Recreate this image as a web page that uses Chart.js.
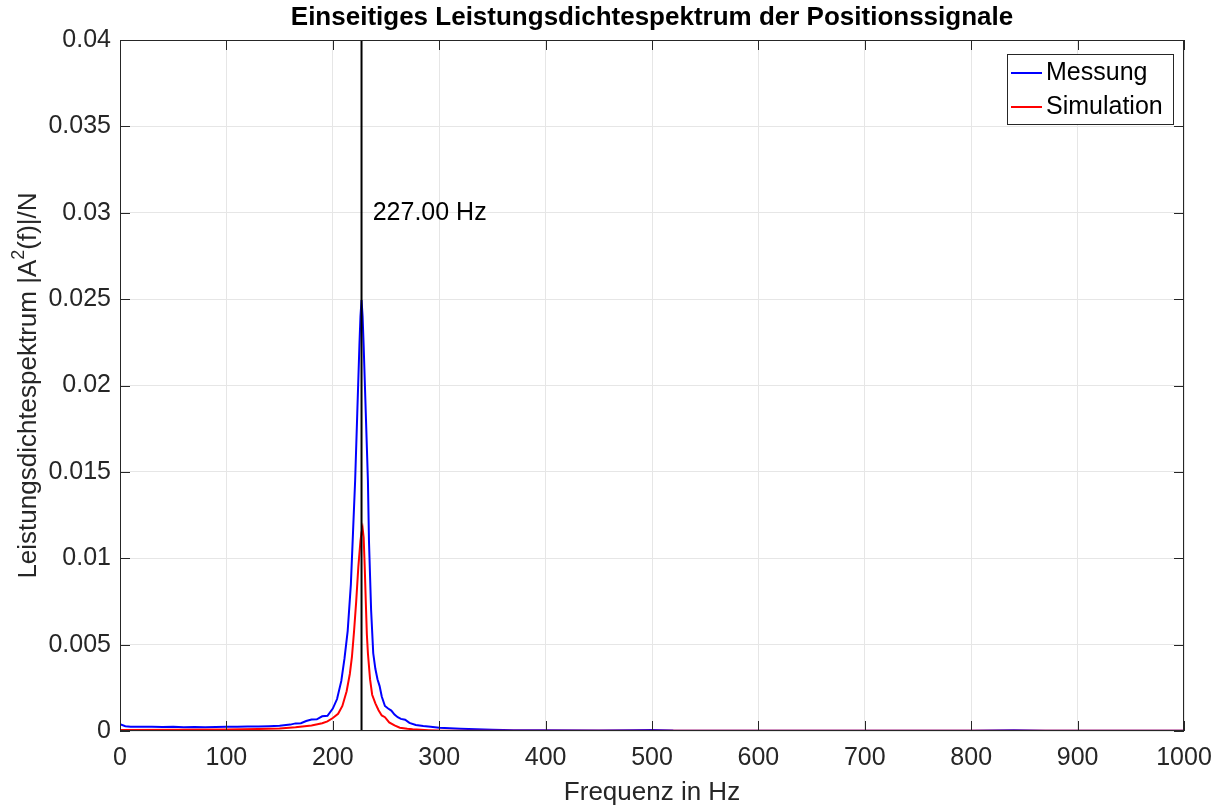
<!DOCTYPE html>
<html>
<head>
<meta charset="utf-8">
<title>Einseitiges Leistungsdichtespektrum</title>
<script src="https://cdn.jsdelivr.net/npm/chart.js@4/dist/chart.umd.min.js"></script>
<style>
  html, body { margin: 0; padding: 0; background: #ffffff; }
  #wrap { width: 1224px; height: 807px; }
</style>
</head>
<body>
<div id="wrap"><canvas id="c" width="1224" height="807"></canvas></div>
<script>
// Frequency axis (Hz) and spectrum values of the measured signal
const freqMessung = [0, 5, 10, 20, 30, 40, 50, 60, 70, 80, 90, 100, 110, 120, 130, 140, 150, 160, 165, 170, 175, 180, 185, 190, 195,
  200, 204, 208, 211, 214, 217, 219, 221, 223, 225, 226, 227, 228, 229, 231, 233, 234, 236, 238, 240, 242, 244, 246, 249,
  252, 255, 258, 261, 264, 268, 272, 278, 285, 292, 300, 310, 320, 335, 350, 370, 400, 450, 480, 500, 520, 600, 700, 800,
  840, 870, 1000];
const psdMessung = [0.00040, 0.00028, 0.00025, 0.00024, 0.00025, 0.00023, 0.00024, 0.00022, 0.00023, 0.00022, 0.00023, 0.00024,
  0.00024, 0.00026, 0.00026, 0.00028, 0.00031, 0.00037, 0.00044, 0.00045, 0.00058, 0.00067, 0.00068, 0.00085, 0.00088,
  0.00130, 0.00185, 0.00290, 0.00420, 0.00580, 0.00850, 0.01150, 0.01450, 0.01840, 0.02230, 0.02400, 0.02495, 0.02400,
  0.02230, 0.01840, 0.01450, 0.01100, 0.00700, 0.00450, 0.00360, 0.00300, 0.00260, 0.00200, 0.00145, 0.00130, 0.00118,
  0.00095, 0.00080, 0.00070, 0.00065, 0.00047, 0.00035, 0.00029, 0.00024, 0.00019, 0.00016, 0.00013, 0.00010, 0.00007,
  0.00005, 0.00004, 0.00003, 0.00004, 0.00006, 0.00003, 0.00002, 0.00002, 0.00002, 0.00005, 0.00002, 0.00001];

// Frequency axis (Hz) and spectrum values of the simulation
const freqSimulation = [0, 50, 100, 130, 150, 165, 180, 190, 195, 200, 205, 209, 213, 216, 218, 220, 222, 224, 226, 227, 228,
  229, 230, 231, 232, 233, 235, 237, 240, 243, 246, 249, 253, 258, 263, 270, 275, 290, 300, 400, 1000];
const psdSimulation = [0.00006, 0.00007, 0.00009, 0.00012, 0.00015, 0.00022, 0.00032, 0.00045, 0.00056, 0.00075, 0.00100,
  0.00145, 0.00230, 0.00330, 0.00430, 0.00580, 0.00750, 0.00950, 0.01100, 0.01150, 0.01175, 0.01120, 0.00950, 0.00750,
  0.00560, 0.00450, 0.00300, 0.00210, 0.00160, 0.00120, 0.00090, 0.00080, 0.00050, 0.00032, 0.00019, 0.00013, 0.00010,
  0.00005, 0.00003, 0.00002, 0.00001];

// Marked peak frequency
const peakFrequency = 227.00;

// Tick labels
const xTickLabels = ['0', '100', '200', '300', '400', '500', '600', '700', '800', '900', '1000'];
const yTickLabels = ['0', '0.005', '0.01', '0.015', '0.02', '0.025', '0.03', '0.035', '0.04'];

const seriesNames = ['Messung', 'Simulation'];
const seriesColors = ['#0000ff', '#ff0000'];

const FONT = '"Liberation Sans", Arial, Helvetica, sans-serif';
const TEXT = '#262626';
const AXIS = '#262626';

const toPoints = (xs, ys) => xs.map((x, i) => ({ x: x, y: ys[i] }));

// Axes box, inward ticks, peak marker, labels and legend
const matlabStyle = {
  id: 'matlabStyle',
  afterDatasetsDraw(chart) {
    const { ctx, chartArea: a, scales: { x, y } } = chart;
    ctx.save();

    // peak marker
    const px = x.getPixelForValue(peakFrequency);
    ctx.strokeStyle = '#000000';
    ctx.lineWidth = 2;
    ctx.beginPath();
    ctx.moveTo(px, a.top);
    ctx.lineTo(px, a.bottom);
    ctx.stroke();

    ctx.fillStyle = '#000000';
    ctx.font = '25px ' + FONT;
    ctx.textAlign = 'left';
    ctx.textBaseline = 'middle';
    ctx.fillText(peakFrequency.toFixed(2) + ' Hz', x.getPixelForValue(peakFrequency + 10.5), y.getPixelForValue(0.03));

    // axes box
    ctx.strokeStyle = AXIS;
    ctx.lineWidth = 1;
    ctx.strokeRect(a.left + 0.5, a.top + 0.5, a.right - a.left - 1, a.bottom - a.top - 1);

    // inward tick marks on all four sides
    const tl = 10;
    ctx.beginPath();
    x.ticks.forEach(t => {
      const p = Math.round(x.getPixelForValue(t.value)) + 0.5;
      ctx.moveTo(p, a.bottom); ctx.lineTo(p, a.bottom - tl);
      ctx.moveTo(p, a.top); ctx.lineTo(p, a.top + tl);
    });
    y.ticks.forEach(t => {
      const p = Math.round(y.getPixelForValue(t.value)) + 0.5;
      ctx.moveTo(a.left, p); ctx.lineTo(a.left + tl, p);
      ctx.moveTo(a.right, p); ctx.lineTo(a.right - tl, p);
    });
    ctx.stroke();

    // title
    ctx.fillStyle = '#000000';
    ctx.font = 'bold 26px ' + FONT;
    ctx.textAlign = 'center';
    ctx.textBaseline = 'middle';
    ctx.fillText('Einseitiges Leistungsdichtespektrum der Positionssignale', (a.left + a.right) / 2, 18);

    // x axis title
    ctx.fillStyle = TEXT;
    ctx.font = '26px ' + FONT;
    ctx.fillText('Frequenz in Hz', (a.left + a.right) / 2, 793);

    // y axis title with superscript
    const partA = 'Leistungsdichtespektrum |A';
    const partSup = '2';
    const partB = '(f)|/N';
    ctx.font = '26px ' + FONT;
    const wA = ctx.measureText(partA).width;
    const wB = ctx.measureText(partB).width;
    ctx.font = '18px ' + FONT;
    const wS = ctx.measureText(partSup).width;
    const total = wA + wS + wB;
    ctx.translate(29, (a.top + a.bottom) / 2);
    ctx.rotate(-Math.PI / 2);
    ctx.textAlign = 'left';
    ctx.textBaseline = 'middle';
    let cx = -total / 2;
    ctx.font = '26px ' + FONT;
    ctx.fillText(partA, cx, 0); cx += wA;
    ctx.font = '18px ' + FONT;
    ctx.fillText(partSup, cx, -10); cx += wS;
    ctx.font = '26px ' + FONT;
    ctx.fillText(partB, cx, 0);
    ctx.setTransform(1, 0, 0, 1, 0, 0);

    // legend
    const lx = 1007, ly = 54, lw = 166, lh = 70;
    ctx.fillStyle = '#ffffff';
    ctx.fillRect(lx, ly, lw, lh);
    ctx.strokeStyle = AXIS;
    ctx.lineWidth = 1;
    ctx.strokeRect(lx + 0.5, ly + 0.5, lw, lh);
    ctx.font = '25px ' + FONT;
    ctx.textAlign = 'left';
    ctx.textBaseline = 'middle';
    seriesNames.forEach((name, i) => {
      const yy = 73 + i * 34;
      ctx.strokeStyle = seriesColors[i];
      ctx.lineWidth = 2;
      ctx.beginPath();
      ctx.moveTo(1011, yy); ctx.lineTo(1042, yy);
      ctx.stroke();
      ctx.fillStyle = '#000000';
      ctx.fillText(name, 1046, yy);
    });

    ctx.restore();
  }
};

new Chart(document.getElementById('c'), {
  type: 'line',
  data: {
    datasets: [
      {
        label: seriesNames[0],
        data: toPoints(freqMessung, psdMessung),
        borderColor: seriesColors[0],
        borderWidth: 2,
        pointRadius: 0,
        tension: 0,
        fill: false,
        order: 2
      },
      {
        label: seriesNames[1],
        data: toPoints(freqSimulation, psdSimulation),
        borderColor: seriesColors[1],
        borderWidth: 2,
        pointRadius: 0,
        tension: 0,
        fill: false,
        order: 1
      }
    ]
  },
  options: {
    responsive: false,
    animation: false,
    devicePixelRatio: 1,
    layout: { padding: { left: 0, right: 40, top: 40, bottom: 0 } },
    plugins: {
      legend: { display: false },
      title: { display: false },
      tooltip: { enabled: false }
    },
    scales: {
      x: {
        type: 'linear',
        min: 0,
        max: 1000,
        afterFit: s => { s.height = 76; },
        afterBuildTicks: s => { s.ticks = xTickLabels.map(v => ({ value: Number(v) })); },
        ticks: {
          callback: (v, i) => xTickLabels[i],
          font: { family: FONT, size: 25 },
          color: TEXT,
          padding: 12,
          maxRotation: 0,
          autoSkip: false
        },
        grid: { color: '#e6e6e6', lineWidth: 1, drawTicks: false },
        border: { display: false }
      },
      y: {
        type: 'linear',
        min: 0,
        max: 0.04,
        afterFit: s => { s.width = 120; },
        afterBuildTicks: s => { s.ticks = yTickLabels.map(v => ({ value: Number(v) })); },
        ticks: {
          callback: (v, i) => yTickLabels[i],
          font: { family: FONT, size: 25 },
          color: TEXT,
          padding: 9,
          autoSkip: false
        },
        grid: { color: '#e6e6e6', lineWidth: 1, drawTicks: false },
        border: { display: false }
      }
    }
  },
  plugins: [matlabStyle]
});
</script>
</body>
</html>
